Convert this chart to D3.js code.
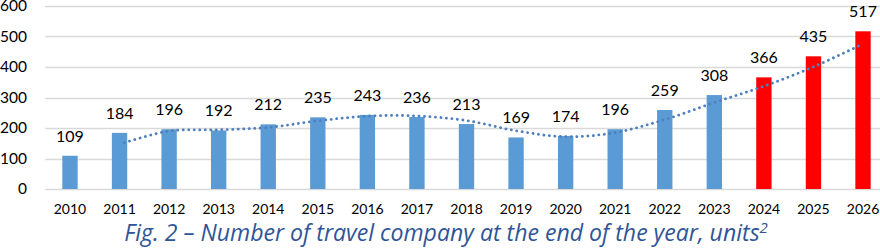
<!DOCTYPE html>
<html>
<head>
<meta charset="utf-8">
<script src="https://cdn.jsdelivr.net/npm/d3@7/dist/d3.min.js"></script>
<style>
  html, body { margin: 0; padding: 0; background: #fff; }
  svg { display: block; font-family: Lato, "Open Sans", sans-serif; }
</style>
</head>
<body>
<svg id="chart" width="880" height="248"></svg>
<script>
const years = ["2010","2011","2012","2013","2014","2015","2016","2017","2018","2019","2020","2021","2022","2023","2024","2025","2026"];
const values = [109,184,196,192,212,235,243,236,213,169,174,196,259,308,366,435,517];
const forecast = [false,false,false,false,false,false,false,false,false,false,false,false,false,false,true,true,true];
const yTicks = [0,100,200,300,400,500,600];
const trendPeriod = 2;
const caption = "Fig. 2 \u2013 Number of travel company at the end of the year, units";
const captionSup = "2";

(function () {
const svg = d3.select("#chart");
const W = 880;
const mLeft = 45.2, mRight = 887.8, mTop = 6, mBottom = 189;

const x = d3.scaleBand().domain(years).range([mLeft, mRight]).paddingInner(0.69).paddingOuter(0.345);
const y = d3.scaleLinear().domain([0, 600]).range([mBottom, mTop]);

// gridlines
svg.append("g").selectAll("line").data(yTicks).join("line")
  .attr("x1", mLeft).attr("x2", W)
  .attr("y1", d => Math.round(y(d)) + 0.5).attr("y2", d => Math.round(y(d)) + 0.5)
  .attr("stroke", "#d9d9d9").attr("stroke-width", 1.3);

// y axis labels
const yAxis = d3.axisLeft(y).tickValues(yTicks).tickSize(0).tickPadding(0);
const gy = svg.append("g").attr("transform", "translate(27,0)").call(yAxis);
gy.select(".domain").remove();
gy.selectAll("text").style("font-size", "15.5px").attr("fill", "#000").style("font-family", "Lato, sans-serif");

// x axis labels
const xAxis = d3.axisBottom(x).tickSize(0).tickPadding(0);
const gx = svg.append("g").attr("transform", "translate(0,204)").call(xAxis);
gx.select(".domain").remove();
gx.selectAll("text").style("font-size", "14px").attr("fill", "#000").style("font-family", "Lato, sans-serif");

// bars
svg.append("g").selectAll("rect").data(years).join("rect")
  .attr("x", d => x(d))
  .attr("width", x.bandwidth())
  .attr("y", (d, i) => y(values[i]))
  .attr("height", (d, i) => y(0) - y(values[i]))
  .attr("fill", (d, i) => forecast[i] ? "#ff0000" : "#5b9bd5");

// trendline (moving average, period 2)
const trend = [];
for (let i = trendPeriod - 1; i < values.length; i++) {
  const s = d3.mean(values.slice(i - trendPeriod + 1, i + 1));
  trend.push({ year: years[i], v: s });
}
const line = d3.line()
  .x(d => x(d.year) + x.bandwidth() / 2)
  .y(d => y(d.v))
  .curve(d3.curveCatmullRom.alpha(0.5));
svg.append("path").datum(trend)
  .attr("d", line)
  .attr("fill", "none")
  .attr("stroke", "#4f80bd")
  .attr("stroke-width", 2.8)
  .attr("stroke-linecap", "round")
  .attr("stroke-dasharray", "0.1 5.4")
  .attr("stroke-dashoffset", -5);

// data labels
svg.append("g").selectAll("text").data(years).join("text")
  .attr("x", d => x(d) + x.bandwidth() / 2)
  .attr("y", (d, i) => y(values[i]) - 14)
  .attr("text-anchor", "middle")
  .style("font-size", "16px")
  .attr("fill", "#000")
  .text((d, i) => values[i]);

// caption
const cap = svg.append("text")
  .attr("x", 446).attr("y", 241)
  .attr("text-anchor", "middle")
  .style("font-size", "20px")
  .style("font-family", "'Open Sans', sans-serif")
  .style("font-style", "italic")
  .attr("fill", "#2f5597");
cap.append("tspan").text(caption);
const sup = cap.append("tspan").attr("dy", -8).style("font-size", "13px").text(captionSup);
const w = cap.node().getComputedTextLength();
const fs = Math.max(16, Math.min(24, 20 * 644 / w));
cap.style("font-size", fs + "px");
sup.style("font-size", (fs * 0.65) + "px");
})();
</script>
</body>
</html>
